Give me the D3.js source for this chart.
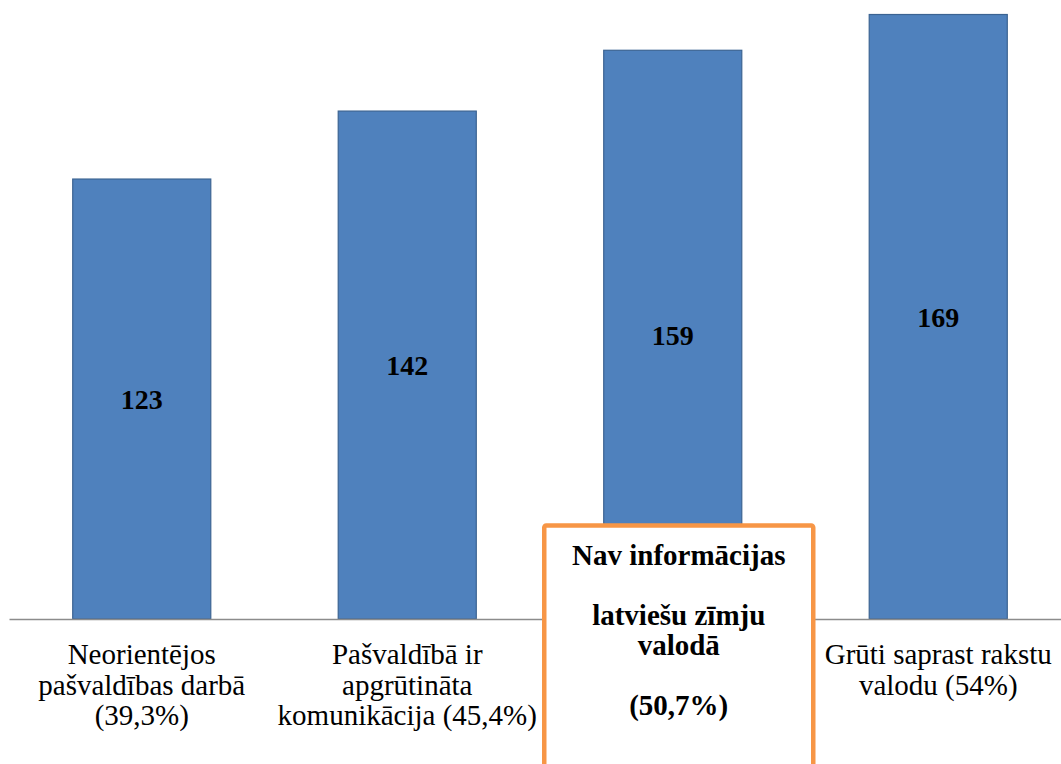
<!DOCTYPE html>
<html>
<head>
<meta charset="utf-8">
<script src="https://cdn.jsdelivr.net/npm/d3@7"></script>
<style>
  html, body { margin: 0; padding: 0; background: #fff; }
  svg { display: block; }
</style>
</head>
<body>
<svg id="chart" width="1061" height="764"></svg>
<script>
const categories = [
  ["Neorientējos", "pašvaldības darbā", "(39,3%)"],
  ["Pašvaldībā ir", "apgrūtināta", "komunikācija (45,4%)"],
  ["Nav informācijas", "", "latviešu zīmju", "valodā", "", "(50,7%)"],
  ["Grūti saprast rakstu", "valodu (54%)"]
];
const values = [123, 142, 159, 169];
const calloutIndex = 2;

const svg = d3.select("#chart");
const baseY = 619;
const ids = categories.map((c, i) => i);

const x = d3.scaleBand().domain(ids).range([9, 1071]).paddingInner(0.48).paddingOuter(0.24);
const y = d3.scaleLinear().domain([0, 169]).range([baseY, 14.5]);

// bars
svg.selectAll("rect.bar").data(values).enter().append("rect")
  .attr("class", "bar")
  .attr("x", (d, i) => x(i))
  .attr("width", x.bandwidth())
  .attr("y", d => y(d))
  .attr("height", d => baseY - y(d))
  .attr("fill", "#4F81BD")
  .attr("stroke", "#3B6392")
  .attr("stroke-width", 1.2);

// value labels
svg.selectAll("text.val").data(values).enter().append("text")
  .attr("class", "val")
  .attr("x", (d, i) => x(i) + x.bandwidth() / 2)
  .attr("y", d => (y(d) + baseY) / 2 + 10)
  .attr("text-anchor", "middle")
  .attr("font-family", "'Liberation Serif', 'Times New Roman', serif")
  .attr("font-weight", "bold")
  .attr("font-size", 28)
  .attr("fill", "#000")
  .text(d => d);

// axis line
const axis = d3.axisBottom(x).tickSize(0).tickFormat("");
const gAxis = svg.append("g").attr("transform", `translate(0,${baseY})`).call(axis);
gAxis.select(".domain").attr("stroke", "#8C8C8C").attr("stroke-width", 1.5);

// category labels (the highlighted one is drawn in the callout box)
const plain = categories.map((c, i) => ({ lines: c, i })).filter(d => d.i !== calloutIndex);
const lab = svg.selectAll("text.cat").data(plain).enter().append("text")
  .attr("class", "cat")
  .attr("text-anchor", "middle")
  .attr("font-family", "'Liberation Serif', 'Times New Roman', serif")
  .attr("font-size", 29)
  .attr("fill", "#000");
lab.each(function(d) {
  const t = d3.select(this);
  const cx = x(d.i) + x.bandwidth() / 2;
  d.lines.forEach((ln, k) => {
    t.append("tspan").attr("x", cx).attr("y", 664 + k * 30.5).text(ln);
  });
});

// callout box over third category
const bx = x(calloutIndex) + x.bandwidth() / 2 + 6;
svg.append("rect")
  .attr("x", bx - 134.5)
  .attr("y", 525.5)
  .attr("width", 269)
  .attr("height", 300)
  .attr("rx", 2)
  .attr("fill", "#fff")
  .attr("stroke", "#F79646")
  .attr("stroke-width", 4.5);
const ct = svg.append("text")
  .attr("text-anchor", "middle")
  .attr("font-family", "'Liberation Serif', 'Times New Roman', serif")
  .attr("font-weight", "bold")
  .attr("font-size", 29)
  .attr("fill", "#000");
categories[calloutIndex].forEach((ln, k) => {
  if (ln) ct.append("tspan").attr("x", bx).attr("y", 565 + k * 30).text(ln);
});
</script>
</body>
</html>
